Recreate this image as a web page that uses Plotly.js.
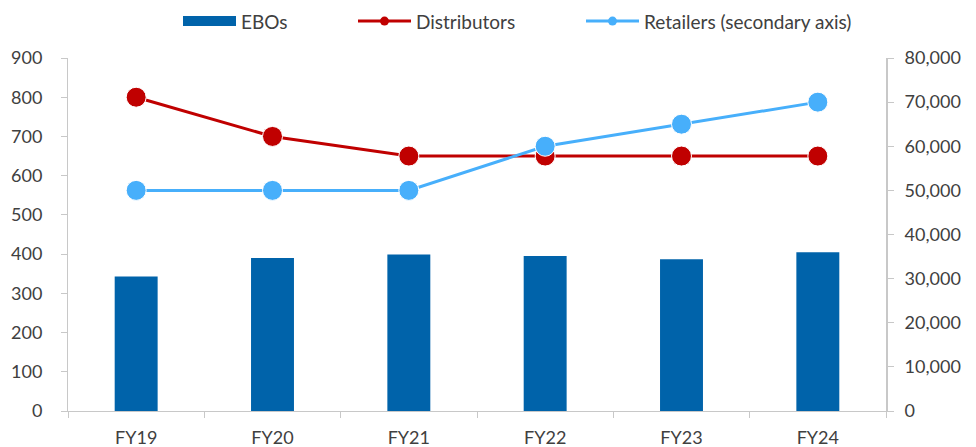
<!DOCTYPE html>
<html>
<head>
<meta charset="utf-8">
<script src="https://cdn.plot.ly/plotly-3.0.1.min.js"></script>
<style>html,body{margin:0;padding:0;background:#fff;}#chart{width:976px;height:447px;}</style>
</head>
<body>
<div id="chart"></div>
<script>
const categories = ["FY19", "FY20", "FY21", "FY22", "FY23", "FY24"];
const ebos = [343, 390, 399, 395, 387, 405];
const distributors = [800, 700, 650, 650, 650, 650];
const retailers = [50000, 50000, 50000, 60000, 65000, 70000];
const leftTicks = [0, 100, 200, 300, 400, 500, 600, 700, 800, 900];
const rightTicks = [0, 10000, 20000, 30000, 40000, 50000, 60000, 70000, 80000];
const seriesNames = ["EBOs", "Distributors", "Retailers (secondary axis)"];

const font = {family: "Lato, 'Open Sans', sans-serif", size: 18, color: "#404040"};
const legendFont = {family: "Lato, 'Open Sans', sans-serif", size: 19, color: "#404040"};
const axisGray = "#c8c8c8";
const barColor = "#0063AA", redColor = "#C00000", blueColor = "#47AFFB";

const traces = [
  {
    type: "bar", name: seriesNames[0], x: categories, y: ebos,
    marker: {color: barColor, line: {width: 0}},
    yaxis: "y", showlegend: false
  },
  {
    type: "scatter", mode: "lines+markers", name: seriesNames[1], x: categories, y: distributors,
    line: {color: redColor, width: 3},
    marker: {color: redColor, size: 20, line: {color: "#ffffff", width: 1}},
    yaxis: "y", showlegend: false
  },
  {
    type: "scatter", mode: "lines+markers", name: seriesNames[2], x: categories, y: retailers,
    line: {color: blueColor, width: 3},
    marker: {color: blueColor, size: 20, line: {color: "#ffffff", width: 1}},
    yaxis: "y2", showlegend: false
  },
  // legend-only entries (draw nothing on the plot)
  {
    type: "scatter", mode: "lines", name: seriesNames[0], x: [categories[0]], y: [null],
    line: {color: barColor, width: 10}, yaxis: "y", hoverinfo: "skip", legend: "legend"
  },
  {
    type: "scatter", mode: "lines+markers", name: seriesNames[1], x: [categories[0]], y: [null],
    line: {color: redColor, width: 3}, marker: {color: redColor, size: 9}, yaxis: "y", hoverinfo: "skip", legend: "legend2"
  },
  {
    type: "scatter", mode: "lines+markers", name: seriesNames[2], x: [categories[0]], y: [null],
    line: {color: blueColor, width: 3}, marker: {color: blueColor, size: 9}, yaxis: "y", hoverinfo: "skip", legend: "legend3"
  }
];

function legendAt(px) {
  return {
    orientation: "h", x: px / 976, xanchor: "left", y: 0.995, yanchor: "top",
    yref: "container", xref: "container",
    font: legendFont, itemwidth: 53, bgcolor: "rgba(0,0,0,0)"
  };
}

const layout = {
  width: 976, height: 447,
  margin: {l: 68, r: 90, t: 58, b: 36},
  paper_bgcolor: "#ffffff", plot_bgcolor: "#ffffff",
  font: font,
  bargap: 0.685,
  showlegend: true,
  legend: legendAt(178),
  legend2: legendAt(353),
  legend3: legendAt(581),
  xaxis: {
    type: "category", categoryorder: "array", categoryarray: categories,
    showline: true, linecolor: axisGray, linewidth: 1,
    ticks: "outside", tickson: "boundaries", ticklen: 6, tickcolor: axisGray,
    showgrid: false, zeroline: false,
    tickfont: font, ticklabelstandoff: 10
  },
  yaxis: {
    range: [0, 900], tickvals: leftTicks, ticktext: leftTicks.map(String),
    showline: true, linecolor: axisGray, linewidth: 1,
    ticks: "outside", ticklen: 6, tickcolor: axisGray,
    showgrid: false, zeroline: false,
    tickfont: font, ticklabelstandoff: 15
  },
  yaxis2: {
    overlaying: "y", side: "right",
    range: [0, 80000], tickvals: rightTicks, ticktext: rightTicks.map(v => v.toLocaleString("en-US")),
    showline: true, linecolor: axisGray, linewidth: 2,
    ticks: "outside", ticklen: 6, tickcolor: axisGray,
    showgrid: false, zeroline: false,
    tickfont: font, ticklabelstandoff: 7
  }
};

Plotly.newPlot("chart", traces, layout, {displayModeBar: false, staticPlot: true});
</script>
</body>
</html>
